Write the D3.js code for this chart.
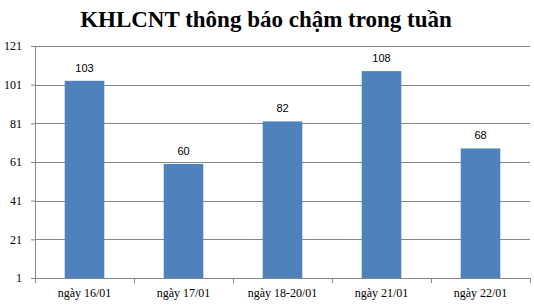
<!DOCTYPE html>
<html>
<head>
<meta charset="utf-8">
<script src="https://cdn.jsdelivr.net/npm/d3@7"></script>
<style>
  body { margin: 0; background: #fff; }
  .y-axis text, .x-axis text { font-family: "Liberation Serif", "Times New Roman", serif; font-size: 12px; fill: #000; }
  .val { font-family: "Liberation Sans", Arial, sans-serif; font-size: 11px; fill: #000; }
</style>
</head>
<body>
<svg id="chart" width="534" height="307"></svg>
<script>
/* data */
var categories = ["ngày 16/01", "ngày 17/01", "ngày 18-20/01", "ngày 21/01", "ngày 22/01"];
var values = [103, 60, 82, 108, 68];
var yTicks = [1, 21, 41, 61, 81, 101, 121];
var title = "KHLCNT thông báo chậm trong tuần";

var width = 534, height = 307,
    margin = { top: 46, right: 4, bottom: 29, left: 35 };
var innerWidth = width - margin.left - margin.right,
    innerHeight = height - margin.top - margin.bottom;

var svg = d3.select("#chart");

svg.append("text")
    .attr("x", width / 2 - 1)
    .attr("y", 27)
    .attr("text-anchor", "middle")
    .style("font-family", "'Liberation Serif', 'Times New Roman', serif")
    .style("font-weight", "bold")
    .style("font-size", "23px")
    .text(title);

var g = svg.append("g")
    .attr("transform", "translate(" + margin.left + "," + margin.top + ")");

var xScale = d3.scaleBand()
    .domain(categories)
    .range([0, innerWidth])
    .paddingInner(0.6)
    .paddingOuter(0.3);

var yScale = d3.scaleLinear()
    .domain([1, 121])
    .range([innerHeight, 0]);

// gridlines
g.selectAll(".grid")
  .data(yTicks.slice(1))
  .enter().append("line")
    .attr("class", "grid")
    .attr("x1", 0)
    .attr("x2", innerWidth)
    .attr("y1", function(d){ return Math.round(yScale(d)) + 0.5; })
    .attr("y2", function(d){ return Math.round(yScale(d)) + 0.5; })
    .attr("stroke", "#868686");

// y axis
var yAxis = d3.axisLeft(yScale).tickValues(yTicks).tickSize(4).tickPadding(9).tickFormat(d3.format("d"));
var yG = g.append("g").attr("class", "y-axis").call(yAxis);
yG.select(".domain").attr("stroke", "#868686").attr("d", "M0.5," + innerHeight + "V0");
yG.selectAll(".tick line").attr("stroke", "#868686");

// bars
g.selectAll(".bar")
  .data(values)
  .enter().append("rect")
    .attr("class", "bar")
    .attr("x", function(d, i){ return xScale(categories[i]); })
    .attr("y", function(d){ return yScale(d); })
    .attr("width", xScale.bandwidth())
    .attr("height", function(d){ return innerHeight - yScale(d); })
    .attr("fill", "#4f81bd");

// value labels
g.selectAll(".val")
  .data(values)
  .enter().append("text")
    .attr("class", "val")
    .attr("x", function(d, i){ return xScale(categories[i]) + xScale.bandwidth() / 2; })
    .attr("y", function(d){ return yScale(d) - 9; })
    .attr("text-anchor", "middle")
    .text(function(d){ return d; });

// x axis
var xAxis = d3.axisBottom(xScale).tickSize(0).tickPadding(10);
var xG = g.append("g")
    .attr("class", "x-axis")
    .attr("transform", "translate(0," + innerHeight + ")")
    .call(xAxis);
xG.select(".domain").attr("stroke", "#868686").attr("d", "M0,0.5H" + innerWidth);

// category boundary ticks
var step = xScale.step();
xG.selectAll(".sep")
  .data(d3.range(categories.length + 1))
  .enter().append("line")
    .attr("class", "sep")
    .attr("x1", function(i){ return Math.round(i * step) + 0.5; })
    .attr("x2", function(i){ return Math.round(i * step) + 0.5; })
    .attr("y1", 0)
    .attr("y2", 5)
    .attr("stroke", "#868686");
</script>
</body>
</html>
